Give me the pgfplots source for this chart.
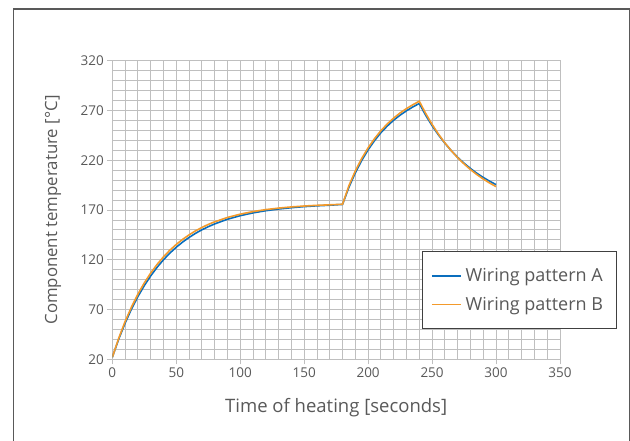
\documentclass[border=0pt]{standalone}
\usepackage{fontspec}
\setmainfont{Open Sans}
\usepackage{pgfplots}
\usepackage{pgfplotstable}
\pgfplotsset{compat=1.18}
\definecolor{txt}{HTML}{595959}
\definecolor{gridc}{HTML}{BFBFBF}
\definecolor{serA}{HTML}{0A6EBD}
\definecolor{serB}{HTML}{F39A2B}
\pgfplotstableread{
t T
0 22
5 40.2
10 56.3
15 70.5
20 83.0
25 94.0
30 103.8
35 112.4
40 120.0
45 126.7
50 132.6
55 137.8
60 142.4
65 146.5
70 150.1
75 153.2
80 156.0
90 160.7
100 164.3
110 167.1
120 169.3
130 171.0
140 172.3
150 173.4
160 174.2
170 174.8
180 175.6
185 192.9
190 207.4
195 219.8
200 230.5
205 239.7
210 247.7
215 254.4
220 260.3
225 265.3
230 269.7
235 273.6
240 277.0
245 265.2
250 254.7
255 245.4
260 237.1
265 229.6
270 222.9
275 217.0
280 211.7
285 206.9
290 202.7
295 198.9
300 195.5
}\serA
\pgfplotstableread{
t T
0 22
5 41.1
10 57.9
15 72.5
20 85.4
25 96.7
30 106.6
35 115.3
40 122.9
45 129.6
50 135.4
55 140.5
60 145.0
65 149.0
70 152.4
75 155.5
80 158.1
90 162.5
100 165.8
110 168.4
120 170.4
130 171.9
140 173.1
150 174.0
160 174.7
170 175.2
180 175.8
185 194.5
190 209.3
195 221.8
200 232.5
205 241.7
210 249.7
215 256.5
220 262.4
225 267.5
230 271.9
235 275.8
240 279.3
245 267.0
250 256.0
255 246.2
260 237.4
265 229.6
270 222.5
275 216.3
280 210.6
285 205.6
290 201.1
295 197.1
300 193.5
}\serB
\begin{document}
\begin{tikzpicture}
\path[use as bounding box] (0,0) rectangle (630bp,441bp);
\draw[color=black!65, line width=1.3bp] (13.7bp,0) -- (13.7bp,432bp) -- (629.3bp,432bp) -- (629.3bp,0);
\begin{axis}[
  at={(112.3bp,81.7bp)}, anchor=south west,
  scale only axis, width=447.7bp, height=298.6bp,
  xmin=0, xmax=350, ymin=20, ymax=320,
  xtick={0,50,...,350}, ytick={20,70,...,320},
  minor xtick={0,10,...,350}, minor ytick={20,30,...,320},
  grid=both,
  major grid style={draw=gridc, line width=0.9bp},
  minor grid style={draw=gridc, line width=0.9bp},
  axis line style={draw=gridc, line width=0.9bp},
  tick style={draw=gridc, line width=0.9bp},
  tick align=outside, major tick length=5bp, minor tick length=0pt,
  tick pos=left,
  tick label style={font=\fontsize{13.5bp}{16bp}\selectfont, text=txt},
  /pgf/number format/assume math mode=true,
  xlabel={Time of heating [seconds]},
  ylabel={Component temperature [°C]},
  xlabel style={font=\fontsize{18.5bp}{22bp}\selectfont, text=txt, at={(axis description cs:0.5,-0.163)}, anchor=center},
  ylabel style={font=\fontsize{16.8bp}{20bp}\selectfont, text=txt, at={(axis description cs:-0.1325,0.5)}, anchor=center},
  legend style={at={(0.691,0.363)}, anchor=north west, draw=black!75, line width=0.9bp,
    fill=white, font=\fontsize{18bp}{21bp}\selectfont, text=txt,
    inner xsep=9bp, inner ysep=15bp, row sep=10bp,
    nodes={inner xsep=4bp}},
  legend cell align=left,
  legend image code/.code={\draw[#1, line width=1.6bp] (0bp,0bp) -- (29bp,0bp);},
]
\addplot[serA, line width=1.6bp] table[x=t,y=T] {\serA};
\addlegendentry{Wiring pattern A}
\addplot[serB, line width=1.6bp] table[x=t,y=T] {\serB};
\addlegendentry{Wiring pattern B}
\end{axis}
\end{tikzpicture}
\end{document}
